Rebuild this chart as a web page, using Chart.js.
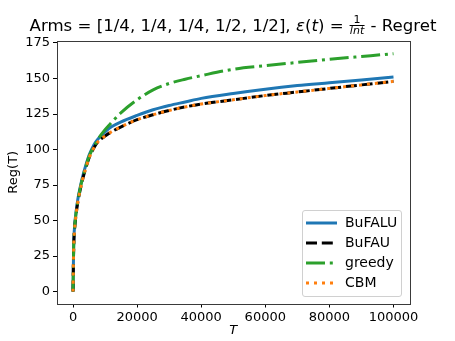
<!DOCTYPE html>
<html>
<head>
<meta charset="utf-8">
<script src="https://cdn.jsdelivr.net/npm/chart.js@4.4.1/dist/chart.umd.min.js"></script>
<style>
  html, body { margin: 0; padding: 0; background: #fff; }
  #wrap { position: relative; width: 455px; height: 341px; font-family: "DejaVu Sans", sans-serif; }
  #c { position: absolute; left: 0; top: 0; }
  #title { position: absolute; left: 233px; top: 16px; transform: translateX(-50%); white-space: nowrap; font-size: 16.6px; color: #000; line-height: 19px; }
  .frac { display: inline-block; vertical-align: middle; text-align: center; font-size: 11px; line-height: 10px; margin: 0 1px; position: relative; top: -1px; }
  .frac .num { display: block; border-bottom: 1px solid #000; padding: 0 1px; }
  .frac .den { display: block; font-style: italic; }
  #legend { position: absolute; left: 302px; top: 210px; width: 100px; height: 87px; border: 1px solid #d0d0d0; border-radius: 3px; background: rgba(255,255,255,0.8); box-sizing: border-box; }
  .row { position: absolute; left: 0; height: 20px; width: 100%; }
  .row svg { position: absolute; left: 3px; top: 0; }
  .row span { position: absolute; left: 42px; top: 1px; font-size: 14px; line-height: 17px; color: #000; }
</style>
</head>
<body>
<div id="wrap">
  <canvas id="c" width="455" height="341"></canvas>
  <div id="title">Arms = [1/4, 1/4, 1/4, 1/2, 1/2], <i>ε</i>(<i>t</i>) = <span class="frac"><span class="num">1</span><span class="den">lnt</span></span> - Regret</div>
  <div id="legend"></div>
</div>
<script>
// ---- data ----
const T = [0, 200, 500, 1000, 1500, 2000, 3000, 4000, 5000, 6000, 7000, 8000, 10000, 12000, 15000, 20000, 25000, 30000, 35000, 40000, 50000, 60000, 70000, 80000, 90000, 100000];
const bufalu = [0, 32, 46, 57, 65, 71, 81, 89, 96, 101, 105, 108, 112.5, 116, 119.5, 124, 128, 131, 133.5, 136, 139.5, 142.5, 145, 147, 149, 151];
const bufau  = [0, 30, 44, 55, 63, 69, 79, 87, 94, 99, 103, 106, 109.5, 112.5, 116, 121, 124.5, 127.5, 130, 132, 135, 138, 140.5, 143, 145.5, 148];
const greedy = [0, 31, 45, 56, 64, 70, 80, 88, 95, 100, 104, 108, 114, 119, 126, 135, 142, 146.5, 149.5, 152, 156.5, 159, 161.3, 163.5, 165.5, 167.5];
const cbm    = [0, 30, 44, 55, 63, 69, 79, 87, 94, 99, 103, 106, 109.5, 112.5, 116, 121, 124.5, 127.5, 130, 132, 135, 138, 140.5, 143, 145.5, 148];
const seriesNames = ["BuFALU", "BuFAU", "greedy", "CBM"];
const xTickValues = [0, 20000, 40000, 60000, 80000, 100000];
const yTickValues = [0, 25, 50, 75, 100, 125, 150, 175];

const colors = ["#1f77b4", "#000000", "#2ca02c", "#ff7f0e"];
const dashes = [[], [11, 4.8], [19, 4.8, 3, 4.8], [3, 5]];
const values = [bufalu, bufau, greedy, cbm];

const toPts = arr => T.map((t, i) => ({ x: t, y: arr[i] }));

const frame = {
  id: 'frame',
  afterDatasetsDraw(chart) {
    const a = chart.chartArea, ctx = chart.ctx;
    ctx.save();
    ctx.strokeStyle = '#3a3a3a';
    ctx.lineWidth = 1;
    ctx.strokeRect(Math.round(a.left) + 0.5, Math.round(a.top) + 0.5, Math.round(a.right - a.left), Math.round(a.bottom - a.top));
    ctx.restore();
  }
};

new Chart(document.getElementById('c'), {
  type: 'line',
  data: {
    datasets: seriesNames.map((n, i) => ({
      label: n,
      data: toPts(values[i]),
      order: 3 - i,
      borderColor: colors[i],
      backgroundColor: colors[i],
      borderWidth: 3,
      borderDash: dashes[i],
      borderCapStyle: 'butt',
      pointRadius: 0,
      cubicInterpolationMode: 'monotone',
      fill: false
    }))
  },
  options: {
    responsive: false,
    animation: false,
    events: [],
    layout: { padding: { left: 0, top: 41, right: 45.5, bottom: 0 } },
    plugins: { legend: { display: false }, tooltip: { enabled: false }, title: { display: false } },
    scales: {
      x: {
        type: 'linear', min: -5000, max: 105000,
        afterBuildTicks: s => { s.ticks = xTickValues.map(v => ({ value: v })); },
        afterFit: s => { s.height = 37.5; },
        grid: { drawOnChartArea: false, drawTicks: true, tickLength: 4, tickColor: '#000', color: '#000' },
        border: { display: false },
        ticks: { color: '#000', font: { family: 'DejaVu Sans', size: 13 }, padding: 2, maxRotation: 0, autoSkip: false, callback: v => String(v) },
        title: { display: true, text: 'T', color: '#000', font: { family: 'DejaVu Sans', size: 13, style: 'italic' }, padding: { top: 0, bottom: 3 } }
      },
      y: {
        type: 'linear', min: -8.4, max: 176.4,
        afterBuildTicks: s => { s.ticks = yTickValues.map(v => ({ value: v })); },
        afterFit: s => { s.width = 57; },
        grid: { drawOnChartArea: false, drawTicks: true, tickLength: 4, tickColor: '#000', color: '#000' },
        border: { display: false },
        ticks: { color: '#000', font: { family: 'DejaVu Sans', size: 13 }, padding: 3, autoSkip: false, callback: v => String(v) },
        title: { display: true, text: 'Reg(T)', color: '#000', font: { family: 'DejaVu Sans', size: 13 }, padding: { top: 6, bottom: 0 } }
      }
    }
  },
  plugins: [frame]
});

// HTML legend
const leg = document.getElementById('legend');
seriesNames.forEach((n, i) => {
  const row = document.createElement('div');
  row.className = 'row';
  row.style.top = (2 + i * 20) + 'px';
  row.innerHTML = `<svg width="32" height="20"><line x1="0" y1="10" x2="31" y2="10" stroke="${colors[i]}" stroke-width="3" stroke-dasharray="${dashes[i].join(' ') || 'none'}"/></svg><span>${n}</span>`;
  leg.appendChild(row);
});
</script>
</body>
</html>
